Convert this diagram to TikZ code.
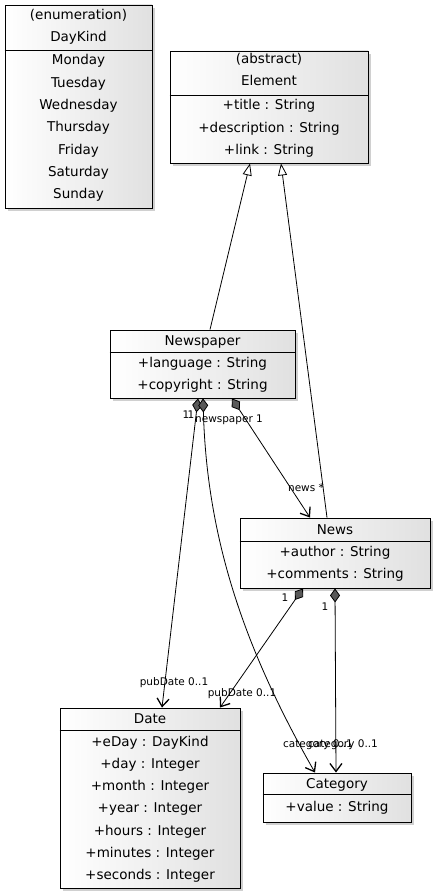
\documentclass[tikz,border=0pt]{standalone}
\usepackage{fontspec}
\setmainfont{DejaVu Sans}
\usetikzlibrary{arrows.meta,shadows}
\begin{document}
\begin{tikzpicture}[x=1pt,y=-1pt,
  classbox/.style={draw=black, line width=0.9pt, left color=white, right color=black!12,
    drop shadow={shadow xshift=3pt, shadow yshift=-3pt, opacity=0.3, fill=black!60}, inner sep=0pt},
  sepline/.style={line width=0.9pt},
  ctext/.style={inner sep=0pt, text height=10pt, text depth=0pt, font=\fontsize{13.5}{16}\selectfont},
  lbl/.style={inner sep=0pt, text height=7.5pt, text depth=0pt, font=\fontsize{10.5}{12}\selectfont},
  gen/.style={draw, line width=0.8pt, -{Triangle[open, length=12pt, width=9pt, line width=0.8pt]}},
  comp/.style={draw, line width=0.8pt,
    {Diamond[length=14pt, width=10pt, fill=black!65, line width=0.8pt]}-{Straight Barb[length=8pt, width=12pt, line width=1.3pt]}}
]
\useasboundingbox (0,0) rectangle (435,893);
\fill[white] (0,0) rectangle (435,893);

% DayKind
\node[classbox, minimum width=147pt, minimum height=203pt] (daykind) at (78.5,106.5) {};
\draw[sepline] (daykind.west |- 0,50) -- (daykind.east |- 0,50);
\node[ctext] (dk0) at (78.5,15) {(enumeration)};
\node[ctext] (dk1) at (78.5,37) {DayKind};
\node[ctext] (dk2) at (78.5,60) {Monday};
\node[ctext] (dk3) at (78.5,82.3) {Tuesday};
\node[ctext] (dk4) at (78.5,104.7) {Wednesday};
\node[ctext] (dk5) at (78.5,127) {Thursday};
\node[ctext] (dk6) at (78.5,149.3) {Friday};
\node[ctext] (dk7) at (78.5,171.7) {Saturday};
\node[ctext] (dk8) at (78.5,194) {Sunday};

% Element
\node[classbox, minimum width=198pt, minimum height=112pt] (element) at (269,107) {};
\draw[sepline] (element.west |- 0,95) -- (element.east |- 0,95);
\node[ctext] (el0) at (269,59) {(abstract)};
\node[ctext] (el1) at (269,81) {Element};
\node[ctext] (el2) at (269,105) {+title : String};
\node[ctext] (el3) at (269,127.5) {+description : String};
\node[ctext] (el4) at (269,150) {+link : String};

% Newspaper
\node[classbox, minimum width=185pt, minimum height=68pt] (newspaper) at (202.5,364) {};
\draw[sepline] (newspaper.west |- 0,352) -- (newspaper.east |- 0,352);
\node[ctext] (np0) at (202.5,340) {Newspaper};
\node[ctext] (np1) at (202.5,362) {+language : String};
\node[ctext] (np2) at (202.5,384) {+copyright : String};

% News
\node[classbox, minimum width=190pt, minimum height=70pt] (news) at (335,553) {};
\draw[sepline] (news.west |- 0,541) -- (news.east |- 0,541);
\node[ctext] (nw0) at (335,529) {News};
\node[ctext] (nw1) at (335,551) {+author : String};
\node[ctext] (nw2) at (335,573) {+comments : String};

% Date
\node[classbox, minimum width=180pt, minimum height=180pt] (date) at (150,798) {};
\draw[sepline] (date.west |- 0,730) -- (date.east |- 0,730);
\node[ctext] (dt0) at (150,718) {Date};
\node[ctext] (dt1) at (150,741) {+eDay : DayKind};
\node[ctext] (dt2) at (150,763) {+day : Integer};
\node[ctext] (dt3) at (150,785.5) {+month : Integer};
\node[ctext] (dt4) at (150,807.5) {+year : Integer};
\node[ctext] (dt5) at (150,830) {+hours : Integer};
\node[ctext] (dt6) at (150,852) {+minutes : Integer};
\node[ctext] (dt7) at (150,874) {+seconds : Integer};

% Category
\node[classbox, minimum width=148pt, minimum height=49pt] (category) at (337,797.5) {};
\draw[sepline] (category.west |- 0,794) -- (category.east |- 0,794);
\node[ctext] (ct0) at (337,783) {Category};
\node[ctext] (ct1) at (337,806) {+value : String};

% Generalizations
\draw[gen] ([xshift=7.5pt]newspaper.north) -- ([xshift=-19pt]element.south);
\draw[gen] ([xshift=-8pt]news.north) -- ([xshift=12pt]element.south);

% Compositions
\draw[comp] ([xshift=-4.5pt]newspaper.south) -- ([xshift=12pt]date.north);
\draw[comp] ([xshift=0.5pt]newspaper.south) .. controls (207,540) and (245,650) .. ([xshift=-22pt]category.north);
\draw[comp] ([xshift=29.5pt]newspaper.south) -- ([xshift=-25pt]news.north);
\draw[comp] ([xshift=-32pt]news.south) -- ([xshift=70pt]date.north);
\draw[comp] (news.south) -- ([xshift=-1pt]category.north);

% Labels
\node[lbl] (l1) at (186,415) {1};
\node[lbl] (l2) at (191,415) {1};
\node[lbl] (l3) at (229,419) {newspaper 1};
\node[lbl] (l4) at (306,488) {news *};
\node[lbl] (l5) at (174,682) {pubDate 0..1};
\node[lbl] (l6) at (242,693) {pubDate 0..1};
\node[lbl] (l7) at (318,744) {category 0..1};
\node[lbl] (l8) at (343,744) {category 0..1};
\node[lbl] (l9) at (285,598) {1};
\node[lbl] (l10) at (325,607) {1};
\end{tikzpicture}
\end{document}
